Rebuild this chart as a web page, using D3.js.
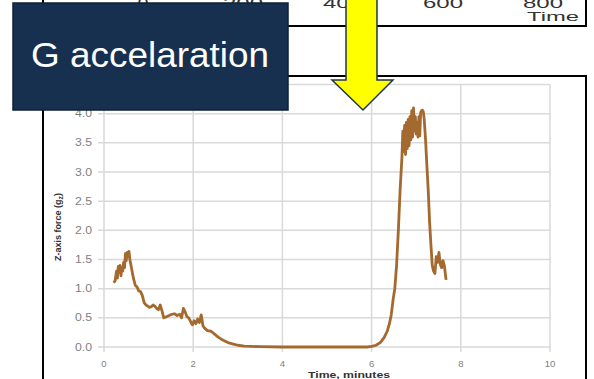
<!DOCTYPE html>
<html>
<head>
<meta charset="utf-8">
<script src="https://cdn.jsdelivr.net/npm/d3@7"></script>
<style>
  body { margin: 0; background: #fff; }
  svg { display: block; }
</style>
</head>
<body>
<div class="slide"></div>
<script>
// time in minutes
let times = [0.22,0.25,0.28,0.30,0.32,0.34,0.36,0.38,0.40,0.42,0.44,0.46,0.48,0.50,0.52,0.54,0.56,0.58,0.60,0.63,
  0.66,0.70,0.74,0.78,0.82,0.86,0.90,0.94,0.98,1.02,1.06,1.10,1.14,1.18,1.22,1.26,1.30,1.34,1.40,1.46,
  1.52,1.58,1.64,1.70,1.74,1.78,1.82,1.86,1.90,1.94,1.98,2.02,2.06,2.10,2.14,2.18,2.22,2.26,2.32,2.40,
  2.48,2.56,2.64,2.72,2.80,2.90,3.00,3.15,3.30,3.50,4.0,4.5,5.0,5.5,5.9,6.0,6.1,6.2,6.28,6.35,
  6.40,6.44,6.48,6.52,6.56,6.60,6.64,6.68,6.70,6.72,6.74,6.76,6.78,6.80,6.82,6.84,6.86,6.88,6.90,6.92,
  6.94,6.96,6.98,7.00,7.02,7.04,7.06,7.08,7.10,7.12,7.14,7.16,7.18,7.21,7.24,7.27,7.30,7.33,7.36,7.39,
  7.42,7.45,7.48,7.51,7.54,7.57,7.60,7.63,7.67];
// z-axis force (g)
let gForce = [1.10,1.14,1.30,1.18,1.38,1.28,1.40,1.22,1.35,1.30,1.45,1.36,1.60,1.48,1.62,1.55,1.64,1.50,1.42,1.30,
  1.18,1.06,1.03,0.96,0.95,0.88,0.76,0.72,0.70,0.68,0.69,0.72,0.70,0.66,0.64,0.72,0.62,0.50,0.52,0.54,
  0.56,0.57,0.54,0.56,0.50,0.66,0.60,0.52,0.50,0.44,0.38,0.45,0.40,0.48,0.42,0.55,0.36,0.32,0.28,0.27,
  0.22,0.17,0.13,0.10,0.07,0.05,0.03,0.015,0.01,0.005,0,0,0,0,0,0.01,0.03,0.08,0.16,0.27,
  0.40,0.55,0.80,1.00,1.40,2.00,2.70,3.25,3.70,3.35,3.80,3.30,3.85,3.40,3.90,3.45,3.95,3.55,4.05,3.60,
  4.10,3.70,3.95,3.65,3.85,3.60,3.95,3.62,4.02,4.05,4.06,4.03,3.90,3.55,3.10,2.68,2.15,1.75,1.40,1.30,
  1.26,1.55,1.45,1.62,1.42,1.36,1.48,1.40,1.15];

let xTicks = [0, 2, 4, 6, 8, 10];
let yTicks = [0, 0.5, 1, 1.5, 2, 2.5, 3, 3.5, 4, 4.5];
let topTicks = [0, 200, 400, 600, 800];

let w = 594;
let h = 379;
let font = "Liberation Sans, Arial, sans-serif";

let svg = d3.select(".slide")
    .append("svg")
    .attr("width", w)
    .attr("height", h);

// leftover bottom of the previous chart
let topX = d3.scaleLinear().domain([0, 800]).range([143, 543]);
svg.append("path")
    .attr("d", "M43,-2 V26 H586 V-2")
    .attr("fill", "none")
    .attr("stroke", "#000")
    .attr("stroke-width", 2);
svg.selectAll(".toptick")
    .data(topTicks)
    .enter().append("text")
    .attr("class", "toptick")
    .attr("x", d => topX(d))
    .attr("y", 8)
    .attr("text-anchor", "middle")
    .attr("font-family", font)
    .attr("font-size", 15)
    .attr("fill", "#333")
    .attr("textLength", d => d == 0 ? 11 : 40)
    .attr("lengthAdjust", "spacingAndGlyphs")
    .text(d => d);
svg.append("text")
    .attr("x", 553)
    .attr("y", 21)
    .attr("text-anchor", "middle")
    .attr("font-family", font)
    .attr("font-size", 12)
    .attr("fill", "#333")
    .attr("textLength", 52)
    .attr("lengthAdjust", "spacingAndGlyphs")
    .text("Time");

// frame round the picture of the chart
svg.append("rect")
    .attr("x", 43).attr("y", 76)
    .attr("width", 543).attr("height", 320)
    .attr("fill", "#fff")
    .attr("stroke", "#000")
    .attr("stroke-width", 2);

let x = d3.scaleLinear().domain([0, 10]).range([104, 550]);
let y = d3.scaleLinear().domain([0, 4.5]).range([347, 84.5]);

let grid = svg.append("g").attr("class", "grid")
    .attr("stroke", "#d9d9d9")
    .attr("stroke-width", 1.5);
grid.selectAll(".hline")
    .data(yTicks)
    .enter().append("line")
    .attr("x1", 98).attr("x2", x(10))
    .attr("y1", d => y(d)).attr("y2", d => y(d));
grid.selectAll(".vline")
    .data(xTicks)
    .enter().append("line")
    .attr("x1", d => x(d)).attr("x2", d => x(d))
    .attr("y1", y(4.5)).attr("y2", 352);

svg.selectAll(".ylab")
    .data(yTicks.filter(d => d < 4.5))
    .enter().append("text")
    .attr("x", 92)
    .attr("y", d => y(d) + 3.5)
    .attr("text-anchor", "end")
    .attr("font-family", font)
    .attr("font-size", 10)
    .attr("fill", "#7f7f7f")
    .attr("textLength", 17)
    .attr("lengthAdjust", "spacingAndGlyphs")
    .text(d => d.toFixed(1));

svg.selectAll(".xlab")
    .data(xTicks)
    .enter().append("text")
    .attr("x", d => x(d))
    .attr("y", 367)
    .attr("text-anchor", "middle")
    .attr("font-family", font)
    .attr("font-size", 9.5)
    .attr("fill", "#7f7f7f")
    .text(d => d);

svg.append("text")
    .attr("x", 349)
    .attr("y", 378)
    .attr("text-anchor", "middle")
    .attr("font-family", font)
    .attr("font-size", 9.5)
    .attr("font-weight", "bold")
    .attr("fill", "#333")
    .attr("textLength", 82)
    .attr("lengthAdjust", "spacingAndGlyphs")
    .text("Time, minutes");

let ylabel = svg.append("text")
    .attr("transform", "translate(61,227) rotate(-90)")
    .attr("text-anchor", "middle")
    .attr("font-family", font)
    .attr("font-size", 9)
    .attr("font-weight", "bold")
    .attr("fill", "#333");
ylabel.append("tspan").text("Z-axis force (g");
ylabel.append("tspan").attr("dy", 2).attr("font-size", 7).text("z");
ylabel.append("tspan").attr("dy", -2).text(")");

let pts = times.map((t, i) => [t, gForce[i]]);
let line = d3.line()
    .x(d => x(d[0]))
    .y(d => y(d[1]));
svg.append("path")
    .datum(pts)
    .attr("d", line)
    .attr("fill", "none")
    .attr("stroke", "#a4692f")
    .attr("stroke-width", 2.8)
    .attr("stroke-linejoin", "round");

// title box
svg.append("rect")
    .attr("x", 13).attr("y", 3)
    .attr("width", 275).attr("height", 107)
    .attr("fill", "#17304f")
    .attr("stroke", "#0e2136")
    .attr("stroke-width", 1.5);
svg.append("text")
    .attr("x", 31)
    .attr("y", 67)
    .attr("font-family", font)
    .attr("font-size", 35)
    .attr("fill", "#fff")
    .attr("textLength", 238)
    .attr("lengthAdjust", "spacingAndGlyphs")
    .text("G accelaration");

// yellow arrow
svg.append("path")
    .attr("d", "M346,-3 H377 V80 H393 L363,110 L332,80 H346 Z")
    .attr("fill", "#ffff00")
    .attr("stroke", "#1f3550")
    .attr("stroke-width", 1.5)
    .attr("stroke-linejoin", "miter");
</script>
</body>
</html>
